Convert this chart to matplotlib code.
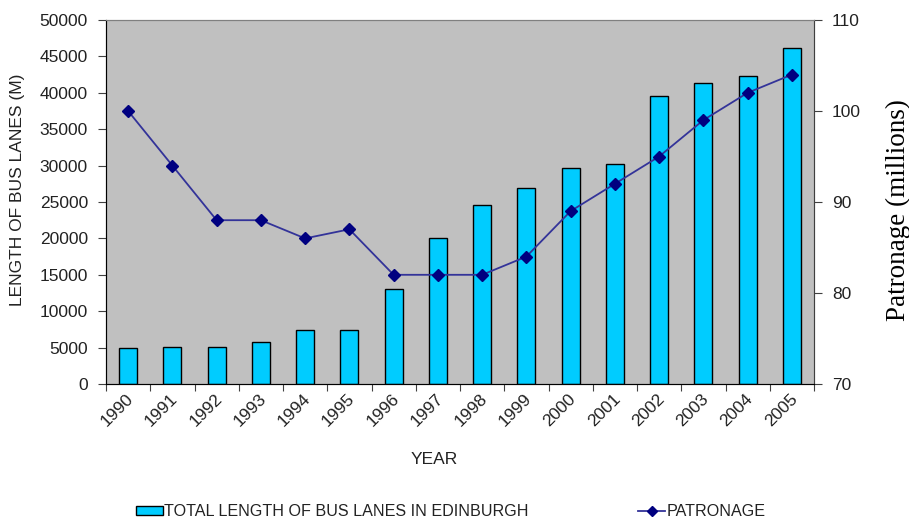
import matplotlib
matplotlib.use("Agg")
import matplotlib.pyplot as plt
import matplotlib.transforms as mtransforms
from matplotlib.lines import Line2D
from matplotlib.patches import Patch
import numpy as np

years = ["1990", "1991", "1992", "1993", "1994", "1995", "1996", "1997",
         "1998", "1999", "2000", "2001", "2002", "2003", "2004", "2005"]
bus_lane_length = [5000, 5100, 5100, 5750, 7400, 7400, 13050, 20100,
                   24550, 26900, 29700, 30200, 39550, 41400, 42250, 46200]
patronage = [100, 94, 88, 88, 86, 87, 82, 82, 82, 84, 89, 92, 95, 99, 102, 104]

plt.rcParams["font.family"] = ["Liberation Sans", "DejaVu Sans"]
text_color = "#222222"
fs = 12.5

fig = plt.figure(figsize=(9.09, 5.21), dpi=100)
ax = fig.add_axes([106 / 909, 137 / 521, 708 / 909, 364 / 521])
ax.set_facecolor("#C0C0C0")

x = np.arange(len(years))
ax.bar(x, bus_lane_length, width=0.41, color="#00CCFF", edgecolor="black",
       linewidth=1.0, zorder=2)
ax.set_xlim(-0.5, len(years) - 0.5)
ax.set_ylim(0, 50000)
ax.set_yticks(np.arange(0, 50001, 5000))
ax.tick_params(axis="y", direction="out", length=6, pad=7, labelsize=fs,
               labelcolor=text_color, color="#404040")

# category boundaries carry the tick marks, labels sit at the centres
ax.set_xticks(np.arange(-0.5, len(years), 1.0))
ax.set_xticklabels([])
ax.tick_params(axis="x", which="major", direction="out", length=5, color="#404040")
ax.set_xticks(x, minor=True)
ax.set_xticklabels(years, minor=True, rotation=45, ha="right", va="center",
                   rotation_mode="anchor", fontsize=fs, color=text_color)
ax.tick_params(axis="x", which="minor", length=0, pad=9)
shift = mtransforms.ScaledTranslation(3 / 100, 0, fig.dpi_scale_trans)
for lbl in ax.get_xticklabels(minor=True):
    lbl.set_transform(lbl.get_transform() + shift)

for side in ("top", "right"):
    ax.spines[side].set_color("#808080")
ax.spines["left"].set_color("#404040")
ax.spines["bottom"].set_color("#404040")

ax2 = ax.twinx()
ax2.plot(x, patronage, color="#333399", linewidth=1.3, marker="D",
         markersize=6.5, markerfacecolor="#000080", markeredgecolor="#000080",
         zorder=3)
ax2.set_ylim(70, 110)
ax2.set_yticks(np.arange(70, 111, 10))
ax2.tick_params(axis="y", direction="out", length=6, pad=7, labelsize=fs,
                labelcolor=text_color, color="#404040")
ax2.spines["right"].set_color("#404040")
ax2.spines["top"].set_color("#808080")

fig.text(18 / 909, 1 - 190 / 521, "LENGTH OF BUS LANES (M)", rotation=90,
         ha="center", va="center", fontsize=fs, color=text_color)
fig.text(434 / 909, 1 - 459 / 521, "YEAR", ha="center", va="center",
         fontsize=fs, color=text_color)
fig.text(898 / 909, 1 - 210 / 521, "Patronage (millions)", rotation=90,
         ha="center", va="center", fontsize=19.5, color="black",
         family=["Liberation Serif", "DejaVu Serif"])

bar_handle = Patch(facecolor="#00CCFF", edgecolor="black", linewidth=1.0)
line_handle = Line2D([], [], color="#333399", linewidth=1.3, marker="D",
                     markersize=5, markerfacecolor="#000080",
                     markeredgecolor="#000080")
leg_fs = 11.6
fig.legend([bar_handle], ["TOTAL LENGTH OF BUS LANES IN EDINBURGH"],
           loc="center left", bbox_to_anchor=(136 / 909, 1 - 512 / 521),
           frameon=False, fontsize=leg_fs, handlelength=1.7, handleheight=0.47,
           handletextpad=0.05, borderpad=0, borderaxespad=0,
           labelcolor=text_color)
fig.legend([line_handle], ["PATRONAGE"],
           loc="center left", bbox_to_anchor=(638 / 909, 1 - 512 / 521),
           frameon=False, fontsize=leg_fs, handlelength=1.7,
           handletextpad=0.1, borderpad=0, borderaxespad=0,
           labelcolor=text_color)

fig.savefig("out.png", dpi=100)
